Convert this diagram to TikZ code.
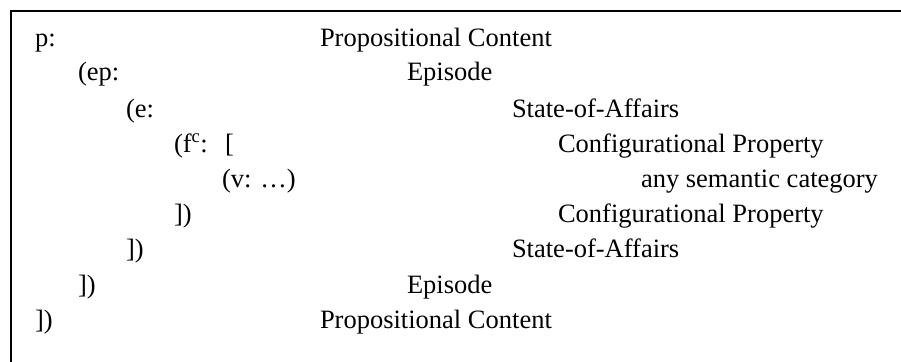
\documentclass[tikz,border=0pt]{standalone}
\usepackage{fontspec}
\setmainfont{Liberation Serif}
\begin{document}
\begin{tikzpicture}[x=1pt,y=-1pt,
  lbl/.style={anchor=base west,inner sep=0pt,outer sep=0pt,
    font=\fontsize{26.5}{32}\selectfont},
  frame/.style={line width=2pt,draw=black}]
\useasboundingbox (0,0) rectangle (901,361);
% frame: only the top and left edges fall inside the picture
\coordinate (fbl) at (11,370);
\coordinate (ftl) at (11,11);
\coordinate (ftr) at (910,11);
\draw[frame] (fbl) -- (ftl) -- (ftr);
% left column: nested variables
\node[lbl] (l1) at (35,46)  {p:};
\node[lbl] (l2) at (78,81)  {(ep:};
\node[lbl] (l3) at (126,117) {(e:};
\node[lbl] (l4) at (174,152) {(f\textsuperscript{c}:};
\node[lbl] (l4b) at (225,152) {[};
\node[lbl] (l5) at (222,187) {(v: …)};
\node[lbl] (l6) at (174,222) {])};
\node[lbl] (l7) at (126,257) {])};
\node[lbl] (l8) at (78,293) {])};
\node[lbl] (l9) at (35,328) {])};
% right column: semantic categories
\node[lbl] (r1) at (320,46)  {Propositional Content};
\node[lbl] (r2) at (407,81)  {Episode};
\node[lbl] (r3) at (512,117) {State-of-Affairs};
\node[lbl] (r4) at (558,152) {Configurational Property};
\node[lbl] (r5) at (641,187) {any semantic category};
\node[lbl] (r6) at (558,222) {Configurational Property};
\node[lbl] (r7) at (512,257) {State-of-Affairs};
\node[lbl] (r8) at (407,293) {Episode};
\node[lbl] (r9) at (320,328) {Propositional Content};
\end{tikzpicture}
\end{document}
